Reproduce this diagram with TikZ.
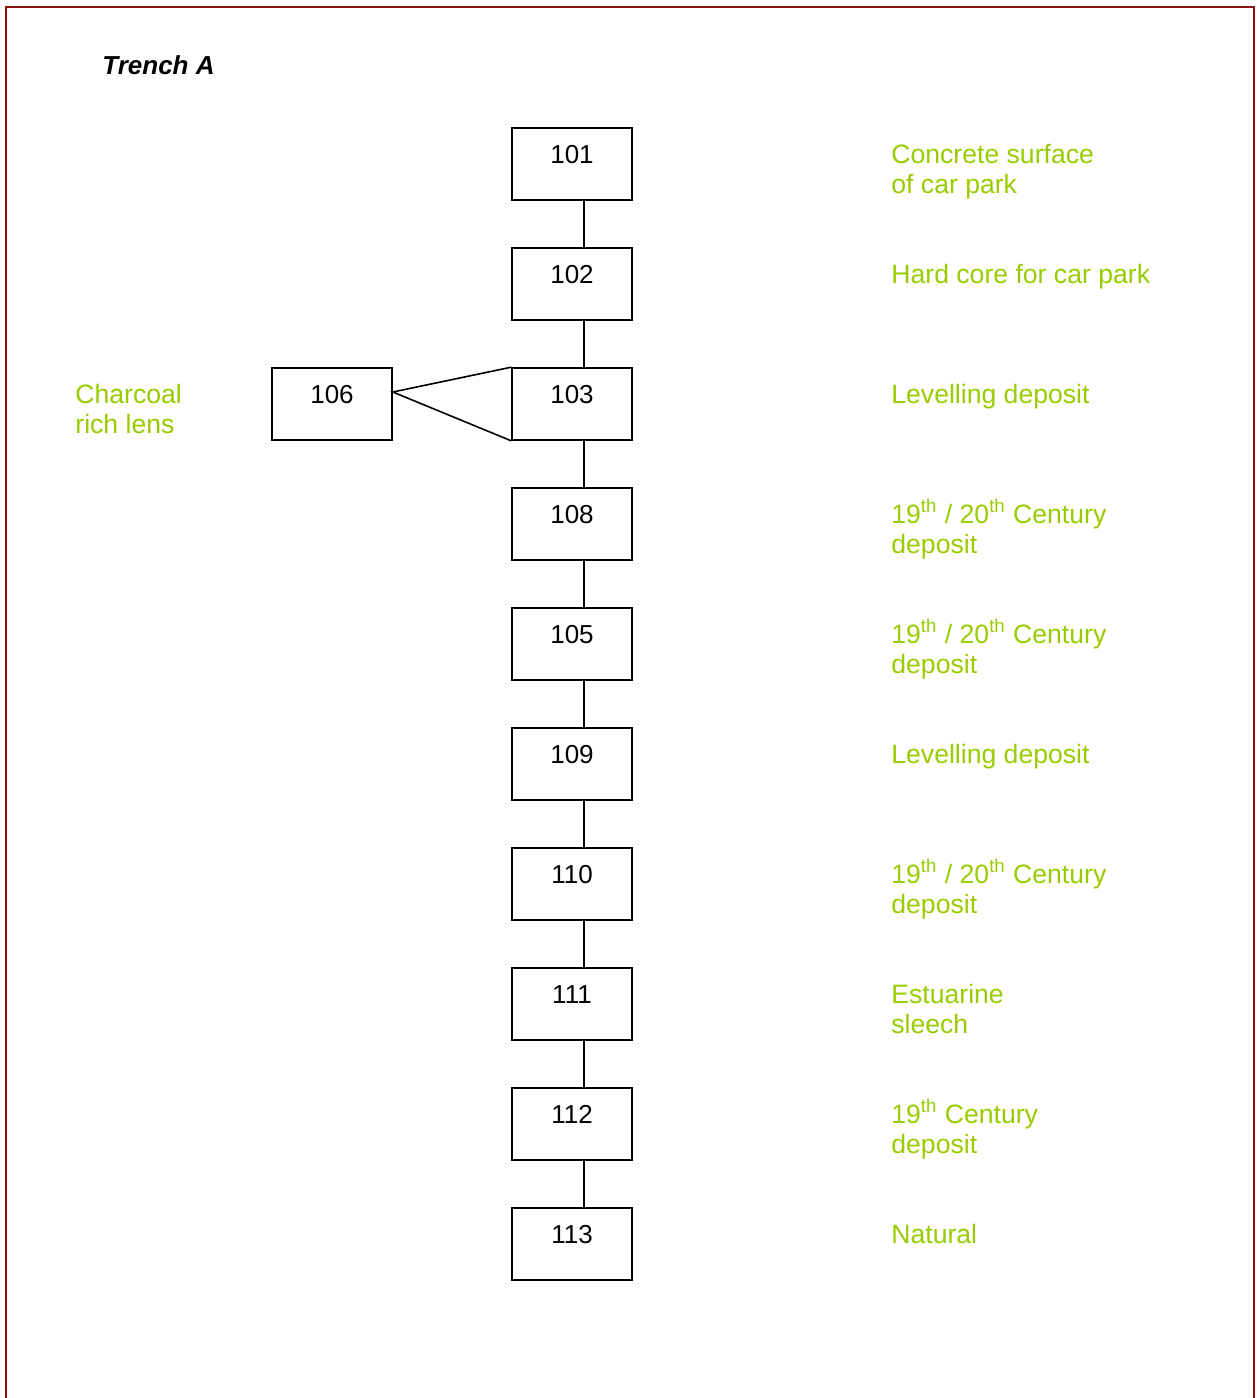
\documentclass[tikz,border=0pt]{standalone}
\usepackage{fontspec}
\setmainfont{Liberation Sans}
\usepackage{xcolor}
\usetikzlibrary{positioning,calc}
\definecolor{framered}{HTML}{8B1010}
\definecolor{leafgreen}{HTML}{99CC00}
\tikzset{
  ctxbox/.style={draw, line width=0.8pt, minimum width=60pt, inner sep=0pt,
    text height=17.5pt, text depth=18.5pt, font=\fontsize{13}{15}\selectfont},
  note/.style={anchor=base west, align=left, inner sep=0pt, text=leafgreen,
    font=\fontsize{13.3}{15}\selectfont},
  link/.style={line width=0.8pt}
}
\newcommand{\thsup}{\textsuperscript{th}}

\begin{document}
\begin{tikzpicture}[x=0.5pt,y=-0.5pt]
\useasboundingbox (0,0) rectangle (1257,1398);
\draw[framered, line width=1pt] (6,1398) -- (6,7) -- (1254,7) -- (1254,1398);
\node[anchor=base west, inner sep=0pt, font=\fontsize{13}{15}\selectfont\bfseries\itshape] (title) at (102,74) {Trench A};

% context boxes of the matrix
\foreach \ctx/\row in {101/0,102/1,103/2,108/3,105/4,109/5,110/6,111/7,112/8,113/9} {
    \node[ctxbox] (c\ctx) at (572,{164+120*\row}) {\ctx};
}
\node[ctxbox] (c106) at (332,404) {106};

\foreach \a/\b in {101/102,102/103,103/108,108/105,105/109,109/110,110/111,111/112,112/113} {
    \draw[link] ([xshift=6pt]c\a.south) -- ([xshift=6pt]c\b.north);
}
\draw[link] (c103.north west) -- ([yshift=6pt]c106.east) -- (c103.south west);

% descriptions (base = last line)
\node[note] (n106) at (75,433) {Charcoal\\rich lens};
\node[note] (n101) at (891,193) {Concrete surface\\of car park};
\node[note] (n102) at (891,283) {Hard core for car park};
\node[note] (n103) at (891,403) {Levelling deposit};
\node[note] (n108) at (891,553) {19\thsup{} / 20\thsup{} Century\\deposit};
\node[note] (n105) at (891,673) {19\thsup{} / 20\thsup{} Century\\deposit};
\node[note] (n109) at (891,763) {Levelling deposit};
\node[note] (n110) at (891,913) {19\thsup{} / 20\thsup{} Century\\deposit};
\node[note] (n111) at (891,1033) {Estuarine\\sleech};
\node[note] (n112) at (891,1153) {19\thsup{} Century\\deposit};
\node[note] (n113) at (891,1243) {Natural};
\end{tikzpicture}
\end{document}
